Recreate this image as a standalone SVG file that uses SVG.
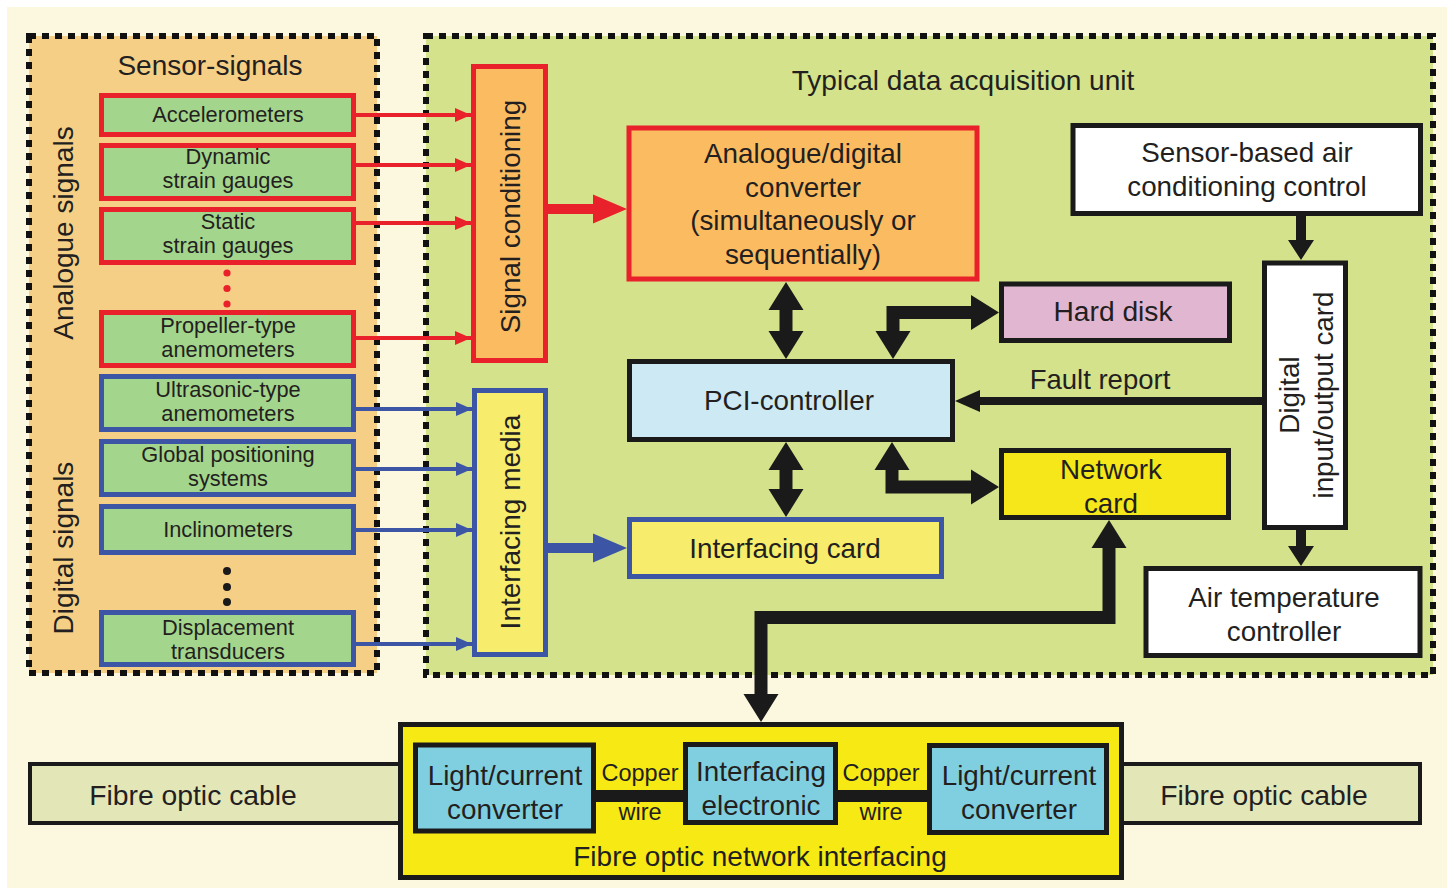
<svg xmlns="http://www.w3.org/2000/svg" width="1447" height="888" viewBox="0 0 1447 888">
  <style>
    text { font-family: "Liberation Sans", Arial, sans-serif; fill: #231f20; text-anchor: middle; }
    .panel { stroke: #111; stroke-width: 6; stroke-dasharray: 7 6; }
    .sens { fill: #a4d58c; stroke-width: 5; }
    .ana { stroke: #e8212b; }
    .dig { stroke: #3c55a5; }
    .blk { stroke: #1a1a1a; stroke-width: 5; }
    .s21 { font-size: 21.8px; }
    .s26 { font-size: 27.8px; }
    .arrowR { stroke: #e8212b; stroke-width: 4; fill: none; }
    .arrowB { stroke: #3c55a5; stroke-width: 4; fill: none; }
    .headR { fill: #e8212b; }
    .headB { fill: #3c55a5; }
    .fat { fill: #1a1a1a; }
  </style>
  <defs>
    <marker id="mr" viewBox="0 0 16 14" refX="16" refY="7" markerWidth="16" markerHeight="14" markerUnits="userSpaceOnUse" orient="auto">
      <path d="M0,0 L16,7 L0,14 Z" fill="#e8212b"/>
    </marker>
    <marker id="mb" viewBox="0 0 16 14" refX="16" refY="7" markerWidth="16" markerHeight="14" markerUnits="userSpaceOnUse" orient="auto">
      <path d="M0,0 L16,7 L0,14 Z" fill="#3c55a5"/>
    </marker>
  </defs>

  <!-- page -->
  <rect x="0" y="0" width="1447" height="888" fill="#ffffff"/>
  <rect x="7" y="7" width="1440" height="881" fill="#fbf8df"/>

  <!-- panels -->
  <g id="sensor-panel">
    <rect class="panel" x="29" y="36" width="348" height="637" fill="#f5cf86"/>
    <text x="210" y="75" style="font-size:28px">Sensor-signals</text>
    <text transform="translate(73,233) rotate(-90)" style="font-size:28px">Analogue signals</text>
    <text transform="translate(73,548) rotate(-90)" style="font-size:28px">Digital signals</text>
  </g>
  <g id="daq-panel">
    <rect class="panel" x="426" y="36" width="1007" height="639" fill="#d4e38b"/>
    <text x="963" y="90" style="font-size:28px">Typical data acquisition unit</text>
  </g>

  <!-- analogue sensors -->
  <g id="accelerometers">
    <rect class="sens ana" x="101.5" y="95.5" width="252" height="39"/>
    <text class="s21" x="228" y="122">Accelerometers</text>
  </g>
  <g id="dynamic-strain">
    <rect class="sens ana" x="101.5" y="145.5" width="252" height="53"/>
    <text class="s21" x="228" y="164">Dynamic</text>
    <text class="s21" x="228" y="188">strain gauges</text>
  </g>
  <g id="static-strain">
    <rect class="sens ana" x="101.5" y="209.5" width="252" height="53"/>
    <text class="s21" x="228" y="229">Static</text>
    <text class="s21" x="228" y="253">strain gauges</text>
  </g>
  <g id="analogue-more">
    <circle cx="227" cy="273" r="3.6" fill="#e8212b"/>
    <circle cx="227" cy="288.5" r="3.6" fill="#e8212b"/>
    <circle cx="227" cy="304" r="3.6" fill="#e8212b"/>
  </g>
  <g id="propeller">
    <rect class="sens ana" x="101.5" y="312.5" width="252" height="53"/>
    <text class="s21" x="228" y="333">Propeller-type</text>
    <text class="s21" x="228" y="357">anemometers</text>
  </g>

  <!-- digital sensors -->
  <g id="ultrasonic">
    <rect class="sens dig" x="101.5" y="376.5" width="252" height="53"/>
    <text class="s21" x="228" y="397">Ultrasonic-type</text>
    <text class="s21" x="228" y="421">anemometers</text>
  </g>
  <g id="gps">
    <rect class="sens dig" x="101.5" y="441.5" width="252" height="53"/>
    <text class="s21" x="228" y="462">Global positioning</text>
    <text class="s21" x="228" y="486">systems</text>
  </g>
  <g id="inclinometers">
    <rect class="sens dig" x="101.5" y="506.5" width="252" height="46"/>
    <text class="s21" x="228" y="537">Inclinometers</text>
  </g>
  <g id="digital-more">
    <circle cx="227" cy="571" r="4" fill="#1a1a1a"/>
    <circle cx="227" cy="587" r="4" fill="#1a1a1a"/>
    <circle cx="227" cy="602" r="4" fill="#1a1a1a"/>
  </g>
  <g id="displacement">
    <rect class="sens dig" x="101.5" y="612.5" width="252" height="52"/>
    <text class="s21" x="228" y="635">Displacement</text>
    <text class="s21" x="228" y="659">transducers</text>
  </g>

  <!-- acquisition unit blocks -->
  <g id="signal-conditioning">
    <rect x="473.5" y="66.5" width="72" height="294" fill="#fbbb60" stroke="#e8212b" stroke-width="5"/>
    <text transform="translate(520,216.5) rotate(-90)" style="font-size:27.8px">Signal conditioning</text>
  </g>
  <g id="interfacing-media">
    <rect x="474.5" y="390.5" width="71" height="264" fill="#f7ec6b" stroke="#3c55a5" stroke-width="5"/>
    <text transform="translate(520,522) rotate(-90)" style="font-size:28px">Interfacing media</text>
  </g>
  <g id="adc">
    <rect x="629" y="128" width="348" height="151" fill="#fbbb60" stroke="#e8212b" stroke-width="5"/>
    <text class="s26" x="803" y="163">Analogue/digital</text>
    <text class="s26" x="803" y="197">converter</text>
    <text class="s26" x="803" y="230">(simultaneously or</text>
    <text class="s26" x="803" y="264">sequentially)</text>
  </g>
  <g id="pci-controller">
    <rect class="blk" x="629.5" y="361.5" width="323" height="78" fill="#cde9f4"/>
    <text class="s26" x="789" y="410">PCI-controller</text>
  </g>
  <g id="interfacing-card">
    <rect x="629.5" y="519.5" width="312" height="57" fill="#f7ec6b" stroke="#3c55a5" stroke-width="5"/>
    <text class="s26" x="785" y="558">Interfacing card</text>
  </g>
  <g id="hard-disk">
    <rect class="blk" x="1001.5" y="284" width="228" height="56.5" fill="#e1b6d1"/>
    <text x="1113" y="321" style="font-size:28.2px">Hard disk</text>
  </g>
  <g id="network-card">
    <rect class="blk" x="1001.5" y="450.5" width="227" height="67" fill="#f6e71a"/>
    <text class="s26" x="1111" y="479">Network</text>
    <text class="s26" x="1111" y="513">card</text>
  </g>
  <g id="ac-control">
    <rect class="blk" x="1073" y="125.5" width="347.5" height="88" fill="#ffffff"/>
    <text class="s26" x="1247" y="162">Sensor-based air</text>
    <text class="s26" x="1247" y="196">conditioning control</text>
  </g>
  <g id="dio-card">
    <rect class="blk" x="1264.5" y="263" width="81" height="264.5" fill="#ffffff"/>
    <text class="s26" transform="translate(1299,395) rotate(-90)">Digital</text>
    <text class="s26" transform="translate(1333,395) rotate(-90)">input/output card</text>
  </g>
  <g id="air-temp">
    <rect class="blk" x="1146" y="568.5" width="274" height="87" fill="#ffffff"/>
    <text class="s26" x="1284" y="607">Air temperature</text>
    <text class="s26" x="1284" y="641">controller</text>
  </g>
  <text x="1100" y="389" style="font-size:27.5px">Fault report</text>

  <!-- fibre optic network -->
  <g id="fibre-cable-left">
    <rect x="30" y="764" width="372" height="59" fill="#e3e7b8" stroke="#1a1a1a" stroke-width="4"/>
    <text x="193" y="805" style="font-size:28.3px">Fibre optic cable</text>
  </g>
  <g id="fibre-cable-right">
    <rect x="1120" y="764" width="300" height="59" fill="#e3e7b8" stroke="#1a1a1a" stroke-width="4"/>
    <text x="1264" y="805" style="font-size:28.3px">Fibre optic cable</text>
  </g>
  <g id="fibre-network-interfacing">
    <rect x="400.5" y="724.5" width="721" height="153" fill="#f7ea14" stroke="#1a1a1a" stroke-width="5"/>
    <text x="760" y="866" style="font-size:28px">Fibre optic network interfacing</text>
  </g>
  <g id="copper-wires">
    <rect x="594" y="790" width="92" height="12" fill="#1a1a1a"/>
    <rect x="835" y="790" width="95" height="12" fill="#1a1a1a"/>
    <text x="640" y="781" style="font-size:23.5px">Copper</text>
    <text x="640" y="820" style="font-size:23.5px">wire</text>
    <text x="881" y="781" style="font-size:23.5px">Copper</text>
    <text x="881" y="820" style="font-size:23.5px">wire</text>
  </g>
  <g id="lc-converter-left">
    <rect class="blk" x="415.5" y="745" width="178" height="86" fill="#80cfe0"/>
    <text class="s26" x="505" y="785">Light/current</text>
    <text class="s26" x="505" y="819">converter</text>
  </g>
  <g id="interfacing-electronic">
    <rect class="blk" x="685.5" y="744.5" width="150" height="78" fill="#80cfe0"/>
    <text class="s26" x="761" y="781">Interfacing</text>
    <text class="s26" x="761" y="815">electronic</text>
  </g>
  <g id="lc-converter-right">
    <rect class="blk" x="929.5" y="745.5" width="177" height="87" fill="#80cfe0"/>
    <text class="s26" x="1019" y="785">Light/current</text>
    <text class="s26" x="1019" y="819">converter</text>
  </g>

  <!-- connectors -->
  <g id="connectors">
    <!-- analogue sensors to signal conditioning -->
    <path class="arrowR" d="M356,115 H471" marker-end="url(#mr)"/>
    <path class="arrowR" d="M356,165 H471" marker-end="url(#mr)"/>
    <path class="arrowR" d="M356,223 H471" marker-end="url(#mr)"/>
    <path class="arrowR" d="M356,338 H471" marker-end="url(#mr)"/>
    <!-- digital sensors to interfacing media -->
    <path class="arrowB" d="M356,409 H472" marker-end="url(#mb)"/>
    <path class="arrowB" d="M356,469 H472" marker-end="url(#mb)"/>
    <path class="arrowB" d="M356,530 H472" marker-end="url(#mb)"/>
    <path class="arrowB" d="M356,644 H472" marker-end="url(#mb)"/>
    <!-- signal conditioning to A/D converter -->
    <polygon class="headR" points="548,204 593,204 593,194.5 627,209 593,223.5 593,214 548,214"/>
    <!-- interfacing media to interfacing card -->
    <polygon class="headB" points="548,543 593,543 593,533.5 627,548 593,562.5 593,553 548,553"/>
    <!-- A/D converter <-> PCI-controller -->
    <polygon class="fat" points="786,282 803.5,310 792.5,310 792.5,331 803.5,331 786,359 768.5,331 779.5,331 779.5,310 768.5,310"/>
    <!-- PCI-controller <-> interfacing card -->
    <polygon class="fat" points="786,442 803.5,470 792.5,470 792.5,489 803.5,489 786,517 768.5,489 779.5,489 779.5,470 768.5,470"/>
    <!-- PCI-controller <-> hard disk -->
    <polygon class="fat" points="893,359 875.5,331 886.5,331 886.5,306 971,306 971,295 999,312.5 971,330 971,319 899.5,319 899.5,331 910.5,331"/>
    <!-- PCI-controller <-> network card -->
    <polygon class="fat" points="892,442 909.5,470 898.5,470 898.5,480.5 971,480.5 971,469.5 999,487 971,504.5 971,493.5 885.5,493.5 885.5,470 874.5,470"/>
    <!-- network card <-> fibre optic network interfacing -->
    <polygon class="fat" points="1109,520 1126.5,548 1115.5,548 1115.5,624 767.5,624 767.5,694 778.5,694 761,722 743.5,694 754.5,694 754.5,611 1102.5,611 1102.5,548 1091.5,548"/>
    <!-- fault report -->
    <polygon class="fat" points="955,401 980,390 980,397 1262,397 1262,405 980,405 980,412"/>
    <!-- air conditioning control to digital I/O card -->
    <polygon class="fat" points="1296,216 1306,216 1306,240 1314,240 1301,260 1288,240 1296,240"/>
    <!-- digital I/O card to air temperature controller -->
    <polygon class="fat" points="1296,530 1306,530 1306,546 1314,546 1301,566 1288,546 1296,546"/>
  </g>
</svg>
